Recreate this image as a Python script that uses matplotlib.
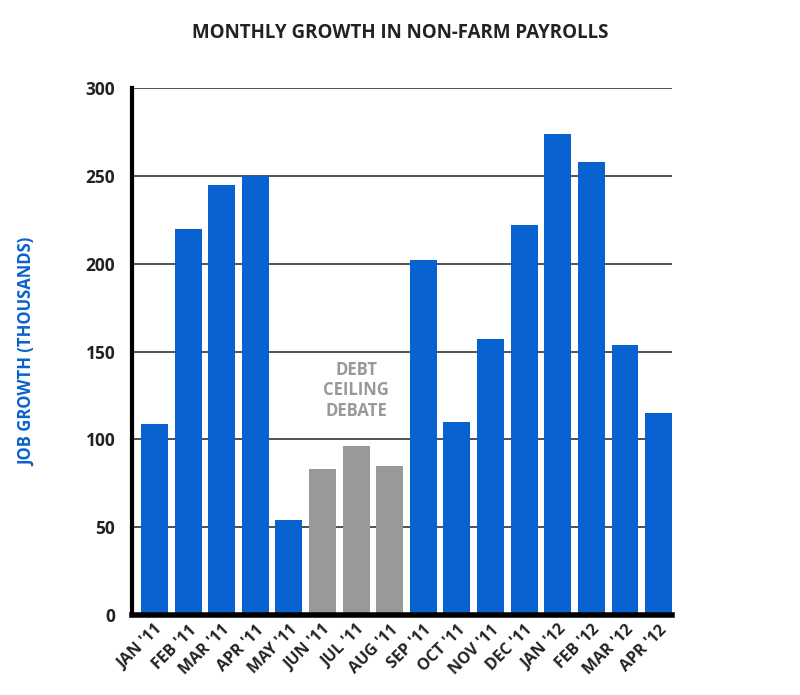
import matplotlib.pyplot as plt
import numpy as np

months = ["JAN '11", "FEB '11", "MAR '11", "APR '11", "MAY '11", "JUN '11",
          "JUL '11", "AUG '11", "SEP '11", "OCT '11", "NOV '11", "DEC '11",
          "JAN '12", "FEB '12", "MAR '12", "APR '12"]
job_growth = [109, 220, 245, 250, 54, 83, 96, 85, 202, 110, 157, 222,
              274, 258, 154, 115]
debate_months = ["JUN '11", "JUL '11", "AUG '11"]
yticks = [0, 50, 100, 150, 200, 250, 300]

BLUE = "#0862cf"
GRAY = "#999999"

plt.rcParams["font.family"] = ["Open Sans", "DejaVu Sans"]

fig = plt.figure(figsize=(8.0, 6.95), dpi=100)
ax = fig.add_axes([0.165, 0.115, 0.675, 0.758])

x = np.arange(len(months))
colors = [GRAY if m in debate_months else BLUE for m in months]
ax.bar(x, job_growth, width=0.8, color=colors, zorder=3)

ax.set_xlim(-0.67, 15.4)
ax.set_ylim(0, 300)
ax.set_yticks(yticks)
ax.set_yticklabels([str(v) for v in yticks], fontsize=12.5, fontweight="bold",
                   color="#222222")
ax.yaxis.grid(True, color="#444444", linewidth=1.3, zorder=1)
ax.tick_params(axis="y", length=0, pad=12)
ax.tick_params(axis="x", length=0, pad=5)

ax.set_xticks(x)
ax.set_xticklabels(months, rotation=45, ha="right", rotation_mode="anchor",
                   fontsize=11.5, fontweight="bold", color="#222222")

for side in ["top", "right"]:
    ax.spines[side].set_visible(False)
ax.spines["left"].set_linewidth(3)
ax.spines["bottom"].set_linewidth(4)
ax.spines["left"].set_zorder(4)
ax.spines["bottom"].set_zorder(4)

ax.set_ylabel("JOB GROWTH (THOUSANDS)", color=BLUE, fontsize=12,
              fontweight="bold", labelpad=36)

ax.text(6, 128, "DEBT\nCEILING\nDEBATE", ha="center", va="center",
        color=GRAY, fontsize=12, fontweight="bold", linespacing=1.2)

fig.text(0.5, 0.952, "MONTHLY GROWTH IN NON-FARM PAYROLLS", ha="center",
         va="center", fontsize=13.5, fontweight="bold", color="#222222")

fig.savefig("out.png", dpi=100)
